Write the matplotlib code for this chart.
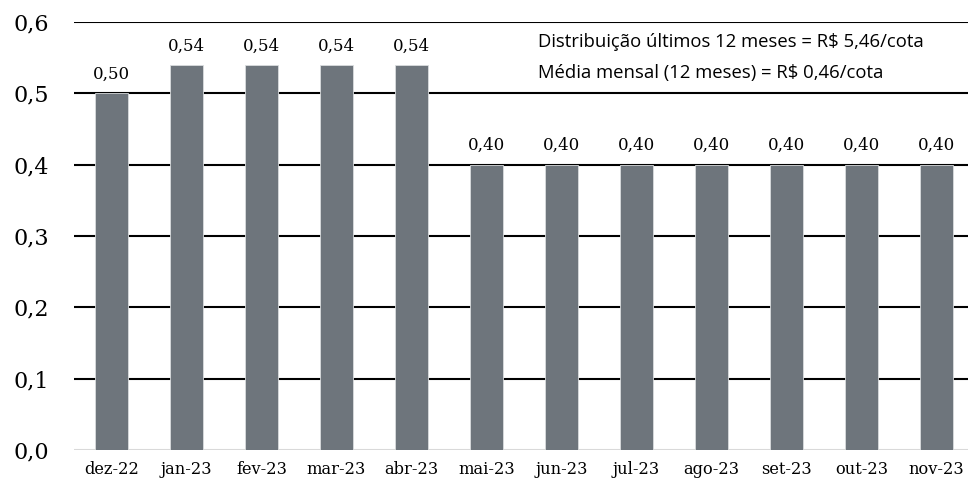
import matplotlib.pyplot as plt
import numpy as np

meses = ['dez-22', 'jan-23', 'fev-23', 'mar-23', 'abr-23', 'mai-23', 'jun-23',
         'jul-23', 'ago-23', 'set-23', 'out-23', 'nov-23']
valores = [0.50, 0.54, 0.54, 0.54, 0.54, 0.40, 0.40, 0.40, 0.40, 0.40, 0.40, 0.40]
yticks = [0.0, 0.1, 0.2, 0.3, 0.4, 0.5, 0.6]
nota1 = 'Distribuição últimos 12 meses = R$ 5,46/cota'
nota2 = 'Média mensal (12 meses) = R$ 0,46/cota'

serif = ['DejaVu Serif']
sans = ['Open Sans', 'DejaVu Sans']

fig = plt.figure(figsize=(9.68, 4.86), dpi=100)
ax = fig.add_axes([74/968, 36/486, 1 - 74/968, 428/486])

x = np.arange(len(meses))
bars = ax.bar(x, valores, width=0.44, color='#6e757c', edgecolor='#d9dcde',
              linewidth=0.6, zorder=3)

for xi, v in zip(x, valores):
    ax.annotate(f'{v:.2f}'.replace('.', ','), (xi, v), xytext=(0, 7.5),
                textcoords='offset points', ha='center', va='bottom',
                fontsize=12, family=serif)

ax.set_ylim(0, 0.6)
ax.set_xlim(-0.5, 11.42)
ax.set_yticks(yticks)
ax.set_yticklabels([f'{t:.1f}'.replace('.', ',') for t in yticks],
                   fontsize=16, family=serif)
ax.set_xticks(x)
ax.set_xticklabels(meses, fontsize=11.7, family=serif)
ax.tick_params(axis='y', length=0, pad=18)
ax.tick_params(axis='x', length=0, pad=8)

for t in yticks[1:]:
    ax.axhline(t, color='black', linewidth=1.5, zorder=1)
ax.axhline(0, color='#d9d9d9', linewidth=1.5, zorder=1)

for s in ax.spines.values():
    s.set_visible(False)

fig.text(538/968, 1 - 42/486, nota1, fontsize=13.3, family=sans,
         va='center', ha='left')
fig.text(538/968, 1 - 73/486, nota2, fontsize=13.3, family=sans,
         va='center', ha='left')

fig.savefig('out.png', dpi=100)
